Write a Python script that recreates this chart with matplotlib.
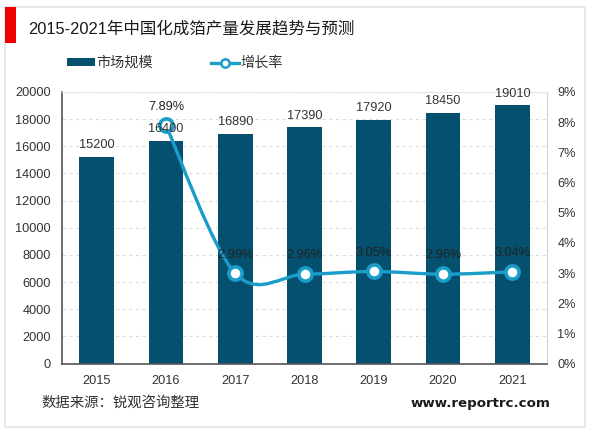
import numpy as np
import matplotlib
matplotlib.use('Agg')
import matplotlib.pyplot as plt
from matplotlib.path import Path
from matplotlib.patches import PathPatch, Rectangle
from matplotlib.lines import Line2D

plt.rcParams['font.family'] = ['Liberation Sans', 'Noto Sans CJK SC', 'DejaVu Sans']

# Data
years = ['2015', '2016', '2017', '2018', '2019', '2020', '2021']
market_size = [15200, 16400, 16890, 17390, 17920, 18450, 19010]
growth_years = [1, 2, 3, 4, 5, 6]
growth_rate = [7.89, 2.99, 2.96, 3.05, 2.96, 3.04]
growth_labels = ['7.89%', '2.99%', '2.96%', '3.05%', '2.96%', '3.04%']

bar_color = '#04506E'
line_color = '#1B9DC9'
W, H = 600, 433

fig = plt.figure(figsize=(W / 100, H / 100), dpi=100)


def px_rect(x0, y0, x1, y1, **kw):
    fig.add_artist(Rectangle((x0 / W, 1 - y1 / H), (x1 - x0) / W, (y1 - y0) / H,
                             transform=fig.transFigure, **kw))


# card and red title block
px_rect(5, 7, 585, 427, facecolor='white', edgecolor='#E4E4E4', linewidth=1.2, zorder=-2)
px_rect(5, 7, 16, 43, facecolor='#F00000', edgecolor='none', zorder=-1)
fig.text(28 / W, 1 - 29 / H, '2015-2021年中国化成箔产量发展趋势与预测', fontsize=11.9,
         color='#1A1A1A', va='center', ha='left')

# plot area
ax = fig.add_axes([62 / W, 1 - 363.5 / H, 485 / W, 271.5 / H])
ax.patch.set_alpha(0)
x = np.arange(len(years))
ax.bar(x, market_size, width=0.5, color=bar_color, zorder=2)
ax.set_xlim(-0.5, 6.5)
ax.set_ylim(0, 20000)
ax.set_yticks(range(0, 20001, 2000))
ax.set_xticks(x)
ax.set_xticklabels(years)
ax.tick_params(axis='both', length=0, labelsize=9.2, labelcolor='#333333')
ax.tick_params(axis='x', pad=8)
ax.tick_params(axis='y', pad=8)
ax.yaxis.grid(True, color='#DDDDDD', linestyle=(0, (3, 3)), linewidth=0.8, zorder=0)
ax.set_axisbelow(True)
for s in ['left', 'bottom']:
    ax.spines[s].set_color('#555555')
    ax.spines[s].set_linewidth(1.2)
ax.spines['top'].set_color('#E4E4E4')
ax.spines['right'].set_color('#D4D4D4')

# growth rate on the right axis, smoothed with a Catmull-Rom curve through the points
ax2 = ax.twinx()
ax2.set_ylim(0, 9)
ax2.set_yticks(range(0, 10))
ax2.set_yticklabels([f'{i}%' for i in range(0, 10)])
ax2.tick_params(axis='y', length=0, labelsize=9.2, labelcolor='#333333', pad=7.5)
for s in ax2.spines.values():
    s.set_visible(False)

px = np.array(growth_years, dtype=float)
py = np.array(growth_rate, dtype=float)
verts = [(px[0], py[0])]
codes = [Path.MOVETO]
for i in range(len(px) - 1):
    p0 = i - 1 if i > 0 else i
    p3 = i + 2 if i + 2 < len(px) else i + 1
    c1 = (px[i] + (px[i + 1] - px[p0]) / 6, py[i] + (py[i + 1] - py[p0]) / 6)
    c2 = (px[i + 1] - (px[p3] - px[i]) / 6, py[i + 1] - (py[p3] - py[i]) / 6)
    verts += [c1, c2, (px[i + 1], py[i + 1])]
    codes += [Path.CURVE4] * 3
ax2.add_patch(PathPatch(Path(verts, codes), facecolor='none', edgecolor=line_color,
                        linewidth=2.4, zorder=3))
ax2.plot(px, py, linestyle='none', marker='o', markersize=9.5, markerfacecolor='white',
         markeredgecolor=line_color, markeredgewidth=2.6, zorder=4)

# bar labels go on ax2 so they sit over the line, like 16400 does
for i, v in enumerate(market_size):
    ax2.annotate(str(v), (i, v), xycoords=ax.transData, xytext=(0, 8.5),
                 textcoords='offset points', ha='center', va='center', fontsize=9.2,
                 color='#333333', zorder=5)

for xi, yi, lab in zip(px, py, growth_labels):
    ax2.annotate(lab, (xi, yi), xytext=(0, 13.5), textcoords='offset points',
                 ha='center', va='center', fontsize=9.2, color='#222222', zorder=5)

# legend
handles = [Rectangle((0, 0), 1, 1, facecolor=bar_color, edgecolor='none'),
           Line2D([], [], color=line_color, linewidth=2.4, marker='o', markersize=6,
                  markerfacecolor='white', markeredgecolor=line_color, markeredgewidth=1.8)]
fig.legend(handles, ['市场规模', '增长率'], ncol=2, frameon=False, fontsize=10.2,
           loc='center left', bbox_to_anchor=(67 / W, 1 - 63 / H), handlelength=1.95,
           handleheight=0.4, handletextpad=0.12, columnspacing=4.1, labelcolor='#333333',
           borderpad=0, borderaxespad=0)

# footer
fig.text(41 / W, 1 - 403 / H, '数据来源：锐观咨询整理', fontsize=10.35, color='#333333',
         va='center', ha='left')
fig.text(550 / W, 1 - 403 / H, 'www.reportrc.com', fontsize=9.6, fontweight='bold',
         color='#1A1A1A', va='center', ha='right', family=['DejaVu Sans'])

fig.savefig('out.png', dpi=100)
